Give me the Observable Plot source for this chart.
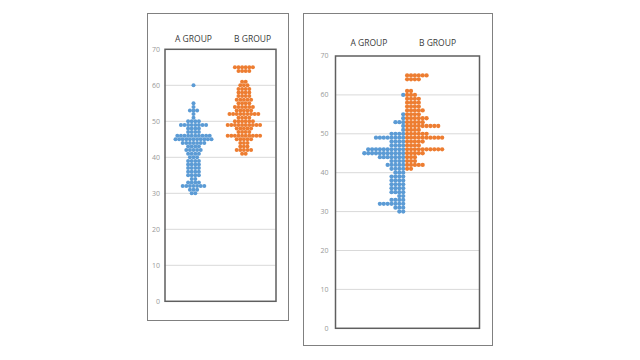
<!DOCTYPE html>
<html><head><meta charset="utf-8">
<script src="https://cdn.jsdelivr.net/npm/d3@7"></script>
<script src="https://cdn.jsdelivr.net/npm/@observablehq/plot@0.6"></script>
<style>
html,body{margin:0;padding:0;background:#fff}
body{width:640px;height:360px;overflow:hidden;position:relative;font-family:"Open Sans",sans-serif}
.panel{position:absolute;border:1.5px solid #808080;box-sizing:border-box;background:#fff}
.panel svg{display:block;opacity:0.995}
</style></head><body>
<div id="p1" class="panel" style="left:147px;top:13px;width:142px;height:308px"></div>
<div id="p2" class="panel" style="left:302.5px;top:13px;width:190px;height:333px"></div>
<script>
// ---- data ----
const groups = ["A GROUP", "B GROUP"];
const yTicks = [0, 10, 20, 30, 40, 50, 60, 70];
const gridValues = [10, 20, 30, 40, 50, 60];
const aValues = [30, 31, 32, 33, 34, 35, 36, 37, 38, 39, 40, 41, 42, 43, 44, 45, 46, 47, 48, 49, 50, 51, 52, 53, 54, 55, 60];
const aCounts = [2, 3, 7, 4, 2, 4, 4, 4, 4, 4, 3, 4, 5, 4, 7, 11, 10, 4, 4, 8, 4, 1, 1, 3, 1, 1, 1];
const bValues = [41, 42, 43, 44, 45, 46, 47, 48, 49, 50, 51, 52, 53, 54, 55, 56, 57, 58, 59, 60, 61, 64, 65];
const bCounts = [2, 5, 3, 3, 5, 10, 4, 5, 10, 6, 4, 9, 5, 6, 4, 5, 4, 4, 4, 3, 2, 4, 6];

const colors = ["#5b9bd5", "#ed7d31"];

// ---- build dot tables ----
function centered(values, counts, center, g) {
  const out = [];
  values.forEach((v, k) => {
    const n = counts[k];
    for (let i = 0; i < n; i++) out.push({x: center + i - (n - 1) / 2, y: v, g});
  });
  return out;
}
function sided(values, counts, dir, g) {
  const out = [];
  values.forEach((v, k) => {
    for (let i = 0; i < counts[k]; i++) out.push({x: dir * (i + 0.5), y: v, g});
  });
  return out;
}
const dots1 = [...centered(aValues, aCounts, 0, groups[0]), ...centered(bValues, bCounts, 14, groups[1])];
const dots2 = [...sided(aValues, aCounts, -1, groups[0]), ...sided(bValues, bCounts, 1, groups[1])];

function panel(o) {
  return Plot.plot({
    width: o.width, height: o.height,
    marginLeft: o.ml, marginRight: o.mr, marginTop: o.mt, marginBottom: o.mb,
    x: {domain: o.xDomain, axis: null},
    y: {domain: [0, 70], axis: null},
    color: {domain: groups, range: colors},
    style: {background: "transparent", overflow: "visible", color: "#999999"},
    marks: [
      Plot.ruleY(gridValues, {stroke: "#d9d9d9", strokeWidth: 1}),
      Plot.axisY(yTicks, {tickSize: 0, tickPadding: o.pad, fontSize: 7, fill: "#999999", fontFamily: "Open Sans", label: null}),
      Plot.dot(o.dots, {x: "x", y: "y", fill: "g", r: o.r, stroke: null}),
      Plot.frame({stroke: "#5f5f5f", strokeWidth: 1.5}),
      Plot.text(groups, {x: (d, i) => o.titleX[i], frameAnchor: "top", dy: o.titleDy,
        text: d => d, fontSize: 8.5, fontFamily: "Open Sans", fill: "#3a3a3a"})
    ]
  });
}

document.getElementById("p1").append(panel({
  width: 139, height: 305, ml: 16.5, mr: 11.5, mt: 34.8, mb: 18.2,
  xDomain: [-7.92, 22.92], pad: 5, r: 2, dots: dots1,
  titleX: [0, 16.4], titleDy: -13.6
}));
document.getElementById("p2").append(panel({
  width: 187, height: 330, ml: 31, mr: 12, mt: 41.5, mb: 16.2,
  xDomain: [-17.9, 19.1], pad: 7, r: 2.15, dots: dots2,
  titleX: [-9.3, 8.3], titleDy: -16
}));
</script>
</body></html>
